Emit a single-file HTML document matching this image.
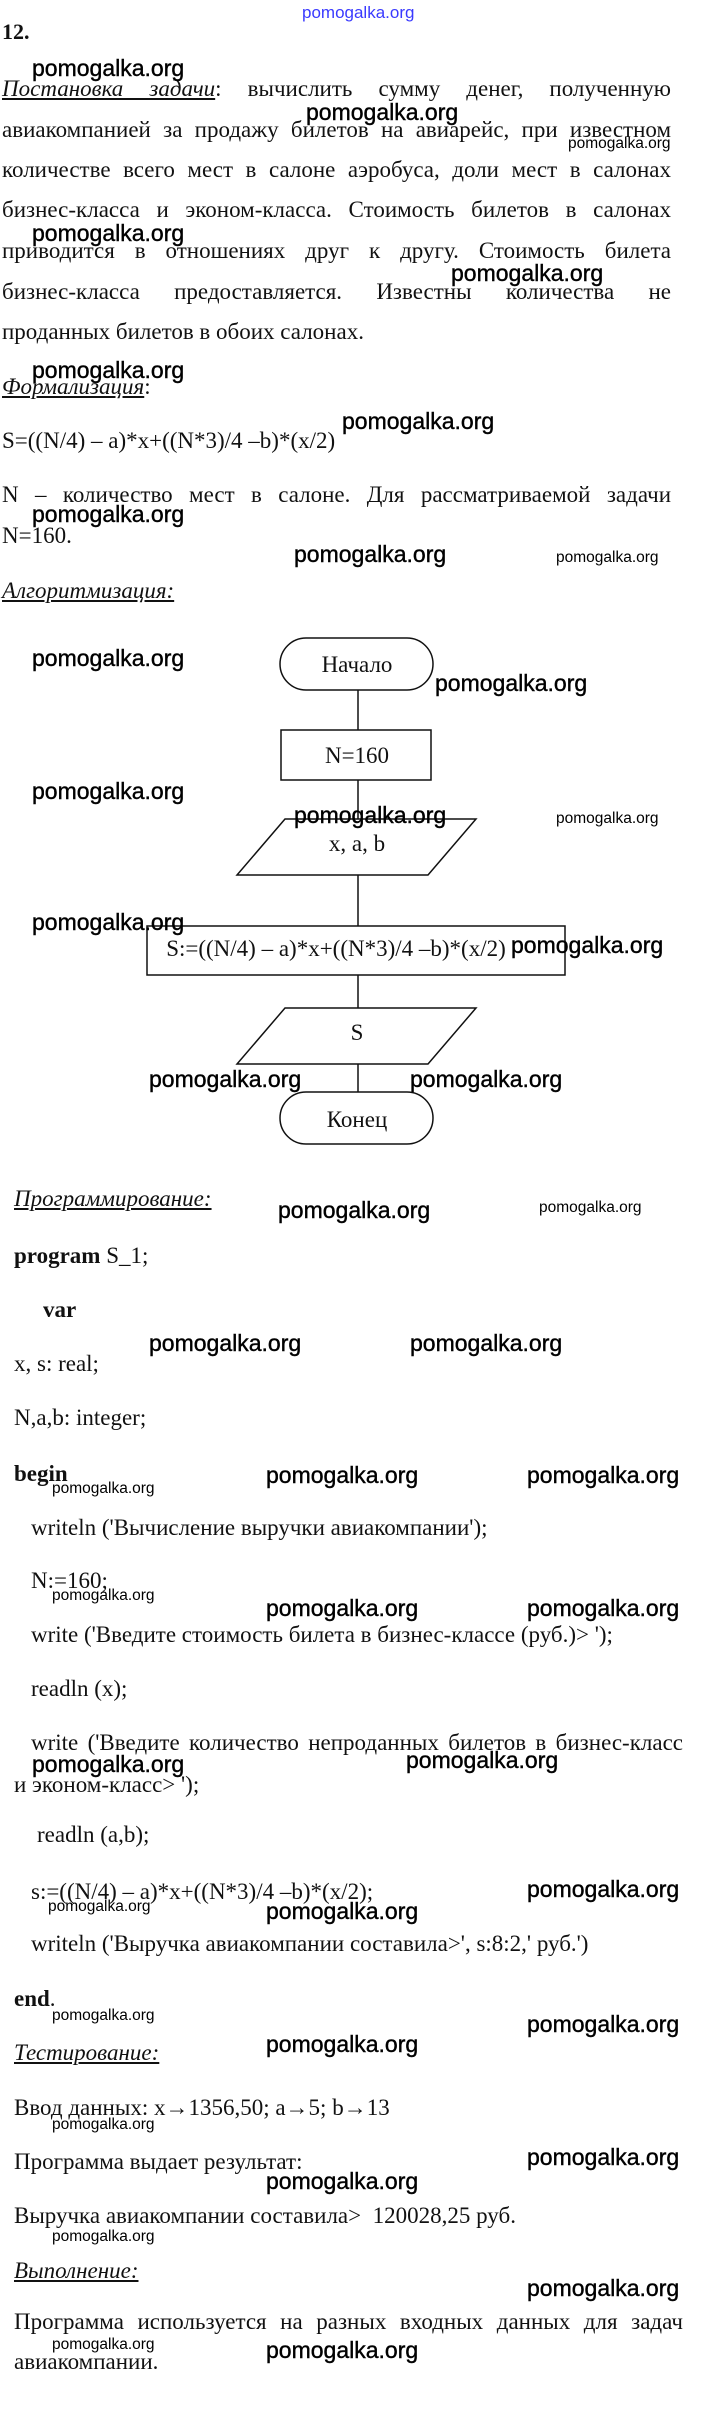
<!DOCTYPE html>
<html><head><meta charset="utf-8"><style>
html,body{margin:0;padding:0;background:#fff;}
body{width:712px;height:2429px;position:relative;overflow:hidden;}
.t{position:absolute;white-space:nowrap;line-height:1;font-family:"Liberation Serif","Noto Serif CJK SC",serif;font-size:23px;color:#111;}
.j{width:669px;text-align:justify;text-align-last:justify;}
.i{font-style:italic;text-decoration:underline;}
.b{font-weight:bold;}
.w{position:absolute;white-space:nowrap;line-height:1;font-family:"Liberation Sans",sans-serif;font-size:23px;color:#000;-webkit-text-stroke:0.4px #000;}
.s{position:absolute;white-space:nowrap;line-height:1;font-family:"Liberation Sans",sans-serif;font-size:15.5px;color:#000;}
</style></head><body>

<div class="s" style="left:302px;top:4px;color:#3a3aff;font-size:17px;">pomogalka.org</div>
<div class="t b" style="left:2px;top:21px;font-size:22px;">12.</div>

<div class="t j" style="left:2px;top:77px;"><span class="i">Постановка задачи</span>: вычислить сумму денег, полученную</div>
<div class="t j" style="left:2px;top:118px;">авиакомпанией за продажу билетов на авиарейс, при известном</div>
<div class="t j" style="left:2px;top:158px;">количестве всего мест в салоне аэробуса, доли мест в салонах</div>
<div class="t j" style="left:2px;top:198px;">бизнес-класса и эконом-класса. Стоимость билетов в салонах</div>
<div class="t j" style="left:2px;top:239px;">приводится в отношениях друг к другу. Стоимость билета</div>
<div class="t j" style="left:2px;top:280px;">бизнес-класса предоставляется. Известны количества не</div>
<div class="t" style="left:2px;top:320px;">проданных билетов в обоих салонах.</div>
<div class="t" style="left:2px;top:375px;"><span class="i">Формализация</span>:</div>
<div class="t" style="left:2px;top:429px;">S=((N/4) – a)*x+((N*3)/4 –b)*(x/2)</div>
<div class="t j" style="left:2px;top:483px;">N – количество мест в салоне. Для рассматриваемой задачи</div>
<div class="t" style="left:2px;top:524px;">N=160.</div>
<div class="t i" style="left:2px;top:579px;">Алгоритмизация:</div>

<div class="w" style="left:32px;top:57px;">pomogalka.org</div>
<div class="w" style="left:306px;top:101px;">pomogalka.org</div>
<div class="s" style="left:568px;top:136px;">pomogalka.org</div>
<div class="w" style="left:32px;top:222px;">pomogalka.org</div>
<div class="w" style="left:451px;top:262px;">pomogalka.org</div>
<div class="w" style="left:32px;top:359px;">pomogalka.org</div>
<div class="w" style="left:342px;top:410px;">pomogalka.org</div>
<div class="w" style="left:32px;top:503px;">pomogalka.org</div>
<div class="w" style="left:294px;top:543px;">pomogalka.org</div>
<div class="s" style="left:556px;top:550px;">pomogalka.org</div>

<svg style="position:absolute;left:0;top:0" width="712" height="1200" xmlns="http://www.w3.org/2000/svg">
<g fill="none" stroke="#111" stroke-width="1.5">
<rect x="280" y="638" width="153" height="52" rx="26" ry="26"/>
<rect x="281" y="730" width="150" height="50"/>
<polygon points="285,819 476,819 428,875 237,875"/>
<rect x="147" y="926" width="418" height="49"/>
<polygon points="285,1008 476,1008 428,1064 237,1064"/>
<rect x="280" y="1092" width="153" height="52" rx="26" ry="26"/>
<line x1="358" y1="690" x2="358" y2="730"/>
<line x1="358" y1="780" x2="358" y2="819"/>
<line x1="358" y1="875" x2="358" y2="926"/>
<line x1="358" y1="975" x2="358" y2="1008"/>
<line x1="358" y1="1064" x2="358" y2="1092"/>
</g>
<g font-family="Liberation Serif, serif" font-size="23" fill="#111" text-anchor="middle">
<text x="357" y="672">Начало</text>
<text x="357" y="763">N=160</text>
<text x="357" y="851">x, a, b</text>
<text x="336" y="956">S:=((N/4) – a)*x+((N*3)/4 –b)*(x/2)</text>
<text x="357" y="1040">S</text>
<text x="357" y="1127">Конец</text>
</g>
</svg>

<div class="w" style="left:32px;top:647px;">pomogalka.org</div>
<div class="w" style="left:435px;top:672px;">pomogalka.org</div>
<div class="w" style="left:32px;top:780px;">pomogalka.org</div>
<div class="w" style="left:294px;top:804px;">pomogalka.org</div>
<div class="s" style="left:556px;top:811px;">pomogalka.org</div>
<div class="w" style="left:32px;top:911px;">pomogalka.org</div>
<div class="w" style="left:511px;top:934px;">pomogalka.org</div>
<div class="w" style="left:149px;top:1068px;">pomogalka.org</div>
<div class="w" style="left:410px;top:1068px;">pomogalka.org</div>

<div class="t i" style="left:14px;top:1187px;">Программирование:</div>
<div class="w" style="left:278px;top:1199px;">pomogalka.org</div>
<div class="s" style="left:539px;top:1200px;">pomogalka.org</div>
<div class="t" style="left:14px;top:1244px;"><b>program</b> S_1;</div>
<div class="t b" style="left:43px;top:1298px;">var</div>
<div class="w" style="left:149px;top:1332px;">pomogalka.org</div>
<div class="w" style="left:410px;top:1332px;">pomogalka.org</div>
<div class="t" style="left:14px;top:1352px;">x, s: real;</div>
<div class="t" style="left:14px;top:1406px;">N,a,b: integer;</div>
<div class="t b" style="left:14px;top:1462px;">begin</div>
<div class="w" style="left:266px;top:1464px;">pomogalka.org</div>
<div class="w" style="left:527px;top:1464px;">pomogalka.org</div>
<div class="s" style="left:52px;top:1481px;">pomogalka.org</div>
<div class="t" style="left:31px;top:1516px;">writeln ('Вычисление выручки авиакомпании');</div>
<div class="t" style="left:31px;top:1569px;">N:=160;</div>
<div class="s" style="left:52px;top:1588px;">pomogalka.org</div>
<div class="w" style="left:266px;top:1597px;">pomogalka.org</div>
<div class="w" style="left:527px;top:1597px;">pomogalka.org</div>
<div class="t" style="left:31px;top:1623px;">write ('Введите стоимость билета в бизнес-классе (руб.)&gt; ');</div>
<div class="t" style="left:31px;top:1677px;">readln (x);</div>
<div class="t" style="left:31px;top:1731px;width:652px;text-align:justify;text-align-last:justify;">write ('Введите количество непроданных билетов в бизнес-класс</div>
<div class="w" style="left:32px;top:1753px;">pomogalka.org</div>
<div class="w" style="left:406px;top:1749px;">pomogalka.org</div>
<div class="t" style="left:14px;top:1773px;">и эконом-класс&gt; ');</div>
<div class="t" style="left:37px;top:1823px;">readln (a,b);</div>
<div class="t" style="left:31px;top:1880px;">s:=((N/4) – a)*x+((N*3)/4 –b)*(x/2);</div>
<div class="w" style="left:527px;top:1878px;">pomogalka.org</div>
<div class="s" style="left:48px;top:1899px;">pomogalka.org</div>
<div class="w" style="left:266px;top:1900px;">pomogalka.org</div>
<div class="t" style="left:31px;top:1932px;">writeln ('Выручка авиакомпании составила&gt;', s:8:2,' руб.')</div>
<div class="t" style="left:14px;top:1987px;"><b>end</b>.</div>
<div class="s" style="left:52px;top:2008px;">pomogalka.org</div>
<div class="w" style="left:527px;top:2013px;">pomogalka.org</div>
<div class="w" style="left:266px;top:2033px;">pomogalka.org</div>
<div class="t i" style="left:14px;top:2041px;">Тестирование:</div>
<div class="t" style="left:14px;top:2096px;">Ввод данных: x→1356,50; a→5; b→13</div>
<div class="s" style="left:52px;top:2117px;">pomogalka.org</div>
<div class="w" style="left:527px;top:2146px;">pomogalka.org</div>
<div class="t" style="left:14px;top:2150px;">Программа выдает результат:</div>
<div class="w" style="left:266px;top:2170px;">pomogalka.org</div>
<div class="t" style="left:14px;top:2204px;">Выручка авиакомпании составила&gt;&nbsp; 120028,25 руб.</div>
<div class="s" style="left:52px;top:2229px;">pomogalka.org</div>
<div class="t i" style="left:14px;top:2259px;">Выполнение:</div>
<div class="w" style="left:527px;top:2277px;">pomogalka.org</div>
<div class="t" style="left:14px;top:2310px;width:669px;text-align:justify;text-align-last:justify;">Программа используется на разных входных данных для задач</div>
<div class="s" style="left:52px;top:2337px;">pomogalka.org</div>
<div class="w" style="left:266px;top:2339px;">pomogalka.org</div>
<div class="t" style="left:14px;top:2350px;">авиакомпании.</div>

</body></html>
